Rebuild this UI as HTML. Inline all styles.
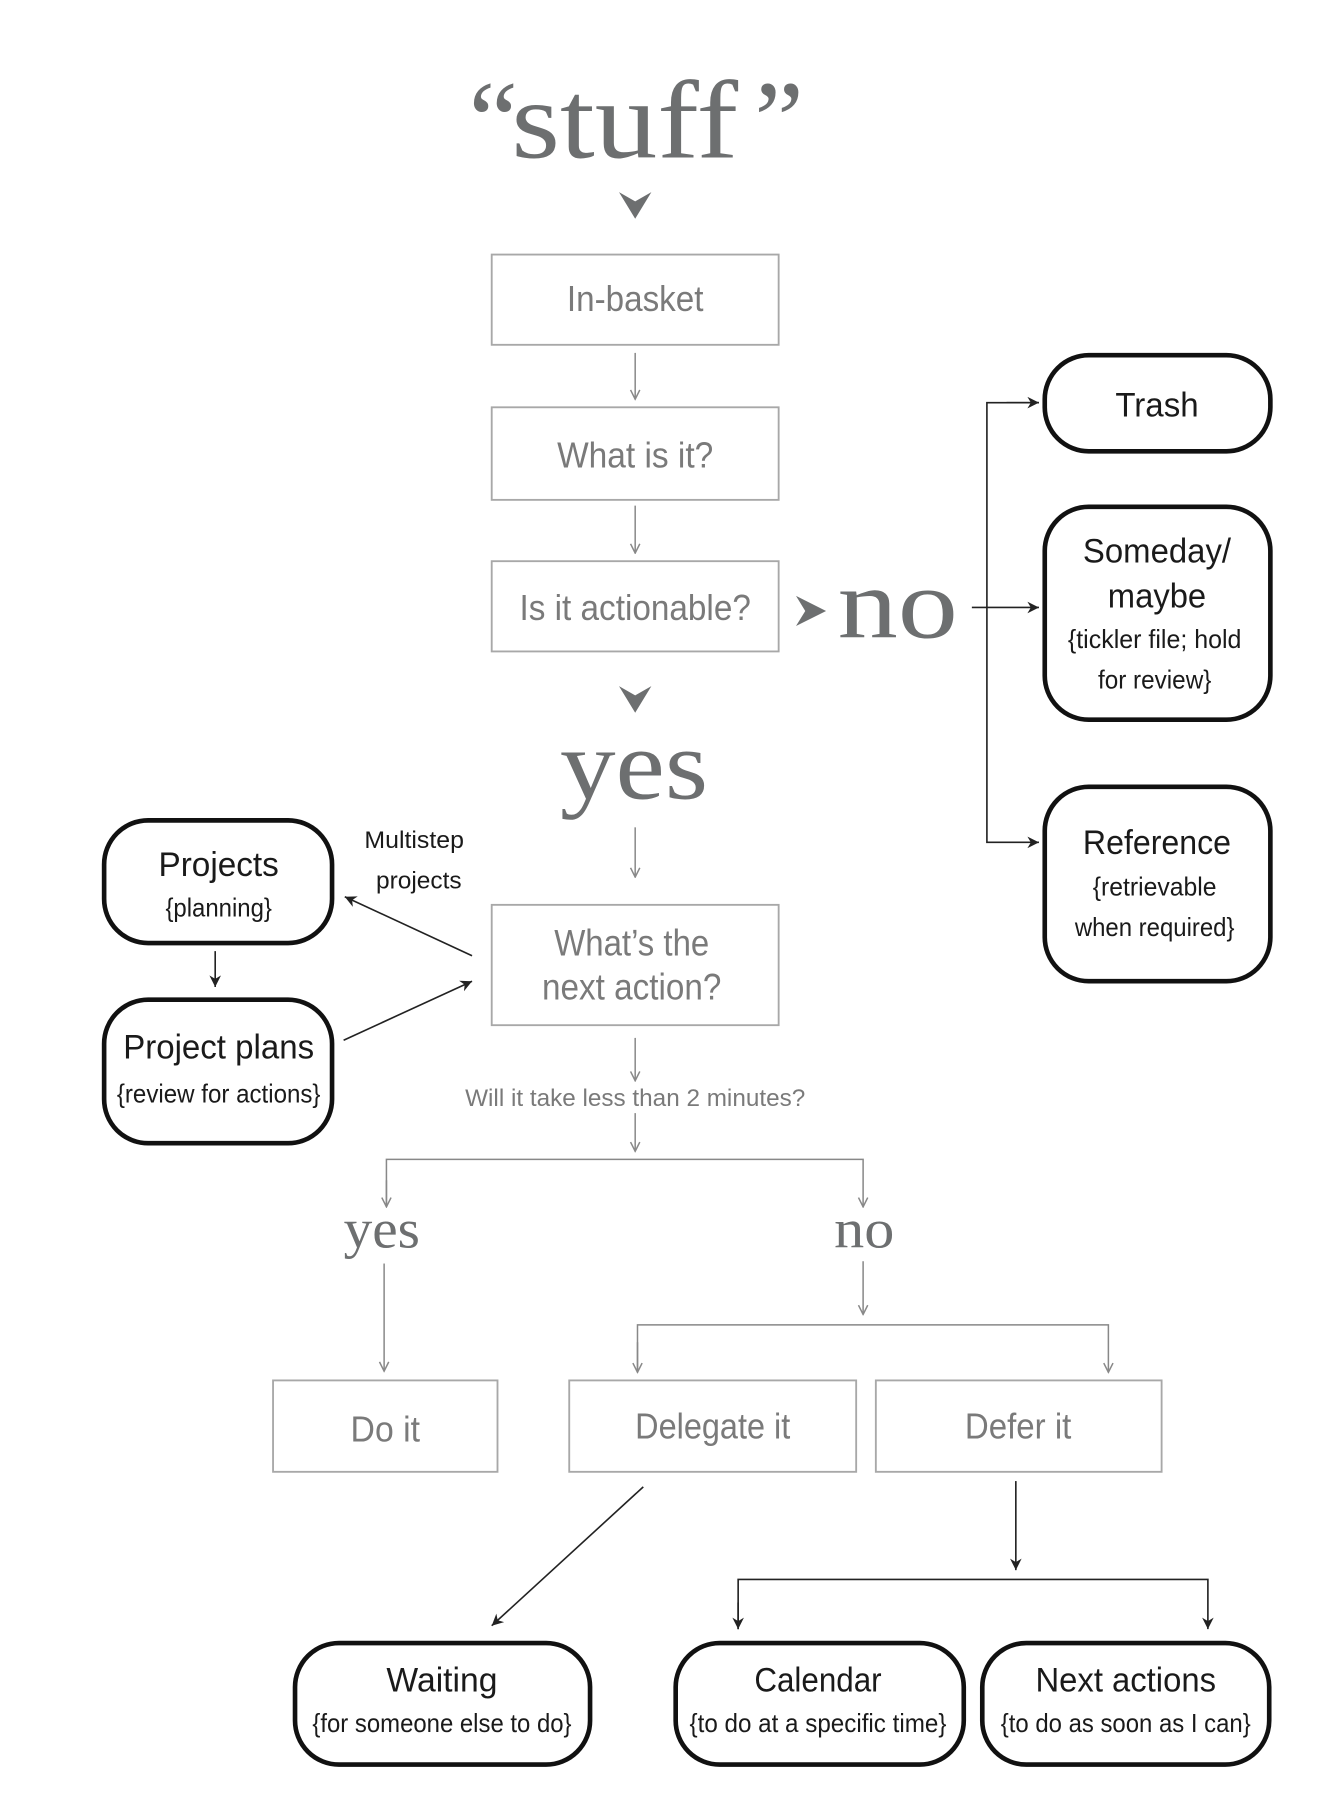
<!DOCTYPE html>
<html><head><meta charset="utf-8"><style>
html,body{margin:0;padding:0;background:#fff;}
svg{display:block;}
.s{font-family:"Liberation Serif",serif;fill:#6d6f70;}
.g{font-family:"Liberation Sans",sans-serif;fill:#7a7a7a;}
.k{font-family:"Liberation Sans",sans-serif;fill:#1a1a1a;}
.gb{fill:none;stroke:#a8a8a8;stroke-width:1.6;}
.bb{fill:#fff;stroke:#111;stroke-width:4;}
.ga{stroke:#888;stroke-width:1.3;fill:none;}
.ka{stroke:#222;stroke-width:1.4;fill:none;}
</style></head><body>
<svg width="1334" height="1812" viewBox="0 0 1153 1566" preserveAspectRatio="none" xmlns="http://www.w3.org/2000/svg">
<defs>
<marker id="ag" markerWidth="10" markerHeight="10" refX="9" refY="5" orient="auto" markerUnits="userSpaceOnUse"><path d="M1,1 L9,5 L1,9" fill="none" stroke="#888" stroke-width="1.3"/></marker>
<marker id="ak" markerWidth="12" markerHeight="12" refX="10" refY="6" orient="auto" markerUnits="userSpaceOnUse"><path d="M0,1 L10,6 L0,11 L3,6 Z" fill="#222"/></marker>
</defs>
<rect x="0" y="0" width="1153" height="1566" fill="#fff"/>

<!-- stuff -->
<text class="s" x="405" y="136" font-size="96">“</text>
<text class="s" x="442" y="136" font-size="96" textLength="196" lengthAdjust="spacingAndGlyphs">stuff</text>
<text class="s" x="652" y="136" font-size="96">”</text>
<path d="M535,166 L549,174 L563,166 L549,189 Z" fill="#6d6f70"/>

<!-- top boxes -->
<rect class="gb" x="425" y="220" width="248" height="78"/>
<text class="g" x="549" y="269" font-size="31" text-anchor="middle" textLength="118" lengthAdjust="spacingAndGlyphs">In-basket</text>
<line class="ga" x1="549" y1="305" x2="549" y2="345" marker-end="url(#ag)"/>
<rect class="gb" x="425" y="352" width="248" height="80"/>
<text class="g" x="549" y="404" font-size="31" text-anchor="middle" textLength="135" lengthAdjust="spacingAndGlyphs">What is it?</text>
<line class="ga" x1="549" y1="437" x2="549" y2="478" marker-end="url(#ag)"/>
<rect class="gb" x="425" y="485" width="248" height="78"/>
<text class="g" x="549" y="536" font-size="31" text-anchor="middle" textLength="200" lengthAdjust="spacingAndGlyphs">Is it actionable?</text>

<!-- no -->
<path d="M688,515 L714,528 L688,541 L696,528 Z" fill="#6d6f70"/>
<text class="s" x="776" y="551" font-size="86" text-anchor="middle" textLength="104" lengthAdjust="spacingAndGlyphs">no</text>
<line class="ka" x1="840" y1="525" x2="898" y2="525" marker-end="url(#ak)"/>
<path class="ka" d="M898,348 L853,348 L853,728 L898,728" marker-end="url(#ak)"/>
<line class="ka" x1="870" y1="348" x2="898" y2="348" marker-end="url(#ak)"/>

<rect class="bb" x="903" y="307" width="195" height="83" rx="38"/>
<text class="k" x="1000" y="360" font-size="30" text-anchor="middle" textLength="72" lengthAdjust="spacingAndGlyphs">Trash</text>
<rect class="bb" x="903" y="438" width="195" height="184" rx="38"/>
<text class="k" x="1000" y="486" font-size="30" text-anchor="middle" textLength="128" lengthAdjust="spacingAndGlyphs">Someday/</text>
<text class="k" x="1000" y="525" font-size="30" text-anchor="middle" textLength="85" lengthAdjust="spacingAndGlyphs">maybe</text>
<text class="k" x="998" y="560" font-size="22" text-anchor="middle" textLength="150" lengthAdjust="spacingAndGlyphs">{tickler file; hold</text>
<text class="k" x="998" y="595" font-size="22" text-anchor="middle" textLength="98" lengthAdjust="spacingAndGlyphs">for review}</text>
<rect class="bb" x="903" y="680" width="195" height="168" rx="38"/>
<text class="k" x="1000" y="738" font-size="30" text-anchor="middle" textLength="128" lengthAdjust="spacingAndGlyphs">Reference</text>
<text class="k" x="998" y="774" font-size="22" text-anchor="middle" textLength="107" lengthAdjust="spacingAndGlyphs">{retrievable</text>
<text class="k" x="998" y="809" font-size="22" text-anchor="middle" textLength="138" lengthAdjust="spacingAndGlyphs">when required}</text>

<!-- yes -->
<path d="M535,593 L549,601 L563,593 L549,616 Z" fill="#6d6f70"/>
<text class="s" x="548" y="690" font-size="86" text-anchor="middle" textLength="128" lengthAdjust="spacingAndGlyphs">yes</text>
<line class="ga" x1="549" y1="715" x2="549" y2="758" marker-end="url(#ag)"/>
<rect class="gb" x="425" y="782" width="248" height="104"/>
<text class="g" x="546" y="826" font-size="32" text-anchor="middle" textLength="134" lengthAdjust="spacingAndGlyphs">What’s the</text>
<text class="g" x="546" y="864" font-size="32" text-anchor="middle" textLength="155" lengthAdjust="spacingAndGlyphs">next action?</text>

<!-- projects -->
<rect class="bb" x="90" y="709" width="197" height="106" rx="38"/>
<text class="k" x="189" y="757" font-size="30" text-anchor="middle" textLength="104" lengthAdjust="spacingAndGlyphs">Projects</text>
<text class="k" x="189" y="792" font-size="22" text-anchor="middle" textLength="92" lengthAdjust="spacingAndGlyphs">{planning}</text>
<line class="ka" x1="186" y1="822" x2="186" y2="853" marker-end="url(#ak)"/>
<rect class="bb" x="90" y="864" width="197" height="124" rx="38"/>
<text class="k" x="189" y="915" font-size="30" text-anchor="middle" textLength="165" lengthAdjust="spacingAndGlyphs">Project plans</text>
<text class="k" x="189" y="953" font-size="22" text-anchor="middle" textLength="176" lengthAdjust="spacingAndGlyphs">{review for actions}</text>
<text class="k" x="358" y="733" font-size="21" text-anchor="middle" textLength="86" lengthAdjust="spacingAndGlyphs">Multistep</text>
<text class="k" x="362" y="768" font-size="21" text-anchor="middle" textLength="74" lengthAdjust="spacingAndGlyphs">projects</text>
<line class="ka" x1="408" y1="826" x2="298" y2="775" marker-end="url(#ak)"/>
<line class="ka" x1="297" y1="899" x2="408" y2="848" marker-end="url(#ak)"/>

<!-- 2 minutes -->
<line class="ga" x1="549" y1="897" x2="549" y2="934" marker-end="url(#ag)"/>
<text class="g" x="549" y="956" font-size="21" text-anchor="middle" textLength="294" lengthAdjust="spacingAndGlyphs">Will it take less than 2 minutes?</text>
<line class="ga" x1="549" y1="962" x2="549" y2="995" marker-end="url(#ag)"/>
<path class="ga" d="M334,1043 L334,1002 L746,1002 L746,1043" marker-end="url(#ag)"/>
<line class="ga" x1="334" y1="1020" x2="334" y2="1043" marker-end="url(#ag)"/>
<text class="s" x="330" y="1078" font-size="48" text-anchor="middle" textLength="66" lengthAdjust="spacingAndGlyphs">yes</text>
<text class="s" x="747" y="1078" font-size="48" text-anchor="middle" textLength="52" lengthAdjust="spacingAndGlyphs">no</text>
<line class="ga" x1="332" y1="1092" x2="332" y2="1185" marker-end="url(#ag)"/>
<line class="ga" x1="746" y1="1090" x2="746" y2="1136" marker-end="url(#ag)"/>
<path class="ga" d="M551,1186 L551,1145 L958,1145 L958,1186" marker-end="url(#ag)"/>
<line class="ga" x1="551" y1="1160" x2="551" y2="1186" marker-end="url(#ag)"/>

<rect class="gb" x="236" y="1193" width="194" height="79"/>
<text class="g" x="333" y="1246" font-size="31" text-anchor="middle" textLength="60" lengthAdjust="spacingAndGlyphs">Do it</text>
<rect class="gb" x="492" y="1193" width="248" height="79"/>
<text class="g" x="616" y="1243" font-size="31" text-anchor="middle" textLength="134" lengthAdjust="spacingAndGlyphs">Delegate it</text>
<rect class="gb" x="757" y="1193" width="247" height="79"/>
<text class="g" x="880" y="1243" font-size="31" text-anchor="middle" textLength="92" lengthAdjust="spacingAndGlyphs">Defer it</text>

<!-- bottom -->
<line class="ka" x1="556" y1="1285" x2="425" y2="1405" marker-end="url(#ak)"/>
<line class="ka" x1="878" y1="1280" x2="878" y2="1357" marker-end="url(#ak)"/>
<path class="ka" d="M638,1408 L638,1365 L1044,1365 L1044,1408" marker-end="url(#ak)"/>
<line class="ka" x1="638" y1="1385" x2="638" y2="1408" marker-end="url(#ak)"/>

<rect class="bb" x="255" y="1420" width="255" height="105" rx="38"/>
<text class="k" x="382" y="1462" font-size="30" text-anchor="middle" textLength="96" lengthAdjust="spacingAndGlyphs">Waiting</text>
<text class="k" x="382" y="1497" font-size="22" text-anchor="middle" textLength="224" lengthAdjust="spacingAndGlyphs">{for someone else to do}</text>
<rect class="bb" x="584" y="1420" width="249" height="105" rx="38"/>
<text class="k" x="707" y="1462" font-size="30" text-anchor="middle" textLength="110" lengthAdjust="spacingAndGlyphs">Calendar</text>
<text class="k" x="707" y="1497" font-size="22" text-anchor="middle" textLength="222" lengthAdjust="spacingAndGlyphs">{to do at a specific time}</text>
<rect class="bb" x="849" y="1420" width="248" height="105" rx="38"/>
<text class="k" x="973" y="1462" font-size="30" text-anchor="middle" textLength="156" lengthAdjust="spacingAndGlyphs">Next actions</text>
<text class="k" x="973" y="1497" font-size="22" text-anchor="middle" textLength="216" lengthAdjust="spacingAndGlyphs">{to do as soon as I can}</text>
</svg>
</body></html>
